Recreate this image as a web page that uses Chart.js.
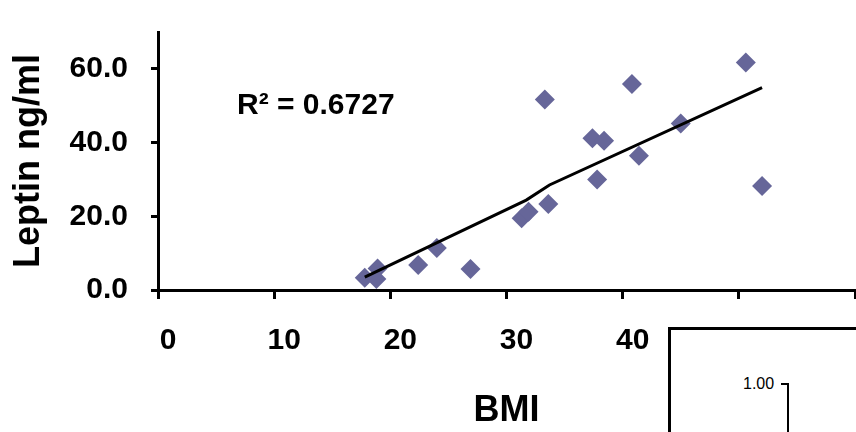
<!DOCTYPE html>
<html>
<head>
<meta charset="utf-8">
<script src="https://cdn.jsdelivr.net/npm/chart.js@4.4.1/dist/chart.umd.min.js"></script>
<style>
  body { margin: 0; background: #fff; }
  #wrap { position: relative; width: 856px; height: 432px; overflow: hidden; }
  #inset { position: absolute; left: 668px; top: 327px; width: 240px; height: 160px; background: #fff; border: 3px solid #000; box-sizing: border-box; }
  #inset span { position: absolute; left: 72px; top: 45px; font: 16px "Liberation Sans", Arial, sans-serif; }
  #inset .axis { position: absolute; left: 110px; top: 53px; width: 6px; height: 200px; border-top: 2px solid #000; border-right: 2px solid #000; }
</style>
</head>
<body>
<div id="wrap">
  <canvas id="chart" width="856" height="432"></canvas>
  <div id="inset"><span>1.00</span><div class="axis"></div></div>
</div>
<script>
// BMI vs leptin
const bmi    = [17.8, 18.9, 18.8, 22.4, 24.0, 26.9, 31.3, 31.9, 33.3, 33.6, 37.4, 37.8, 38.4, 40.8, 41.4, 45.0, 50.6, 52.0];
const leptin = [3.3, 5.8, 3.0, 6.8, 11.4, 5.7, 19.5, 21.2, 51.7, 23.3, 41.2, 30.0, 40.5, 55.9, 36.4, 45.2, 61.7, 28.2];

// trend line as drawn (slight bend near BMI 32-34)
const trendBmi    = [17.8, 31.7, 33.7, 52.0];
const trendLeptin = [3.5, 24.4, 28.5, 54.9];

const rSquared = '0.6727';

Chart.defaults.font.family = '"Liberation Sans", Arial, sans-serif';
Chart.defaults.color = '#000';

const toPoints = (xs, ys) => xs.map((x, i) => ({ x: x, y: ys[i] }));

// R² text placed in data units
const r2Label = {
  id: 'r2Label',
  afterDatasetsDraw(chart) {
    const { ctx, scales: { x, y } } = chart;
    ctx.save();
    ctx.font = 'bold 30px "Liberation Sans", Arial, sans-serif';
    ctx.fillStyle = '#000';
    ctx.textBaseline = 'alphabetic';
    ctx.fillText('R² = ' + rSquared, x.getPixelForValue(6.8), y.getPixelForValue(47.7));
    ctx.restore();
  }
};

const tickFont = { size: 30, weight: 'bold' };

new Chart(document.getElementById('chart'), {
  type: 'scatter',
  data: {
    datasets: [
      {
        data: toPoints(trendBmi, trendLeptin),
        showLine: true,
        borderColor: '#000',
        borderWidth: 3,
        pointRadius: 0,
        order: 0
      },
      {
        data: toPoints(bmi, leptin),
        pointStyle: 'rectRot',
        pointRadius: 10,
        backgroundColor: '#666699',
        borderWidth: 0,
        order: 1
      }
    ]
  },
  options: {
    responsive: false,
    animation: false,
    layout: { autoPadding: false, padding: { top: 32, right: 1, left: 0, bottom: 0 } },
    plugins: { legend: { display: false }, tooltip: { enabled: false } },
    scales: {
      x: {
        min: 0, max: 60,
        ticks: { stepSize: 10, font: tickFont, padding: 24, labelOffset: 10, maxRotation: 0 },
        grid: { drawOnChartArea: false, tickLength: 9, tickWidth: 3, color: '#000' },
        border: { color: '#000', width: 3 },
        title: { display: true, text: 'BMI', font: { size: 36, weight: 'bold', lineHeight: 1 }, padding: { top: 0, bottom: 3 } },
        afterFit(scale) { scale.height = 142; scale.paddingLeft = 0; scale.paddingRight = 0; }
      },
      y: {
        min: 0, max: 70,
        ticks: {
          stepSize: 10, font: tickFont, padding: 23,
          callback: v => (v % 20 === 0 ? v.toFixed(1) : '')
        },
        grid: { drawOnChartArea: false, tickLength: 7, tickWidth: 3, color: '#000' },
        border: { color: '#000', width: 3 },
        title: { display: true, text: 'Leptin ng/ml', font: { size: 36, weight: 'bold', lineHeight: 1 }, padding: { top: 11, bottom: 0 } },
        afterFit(scale) { scale.width = 158; scale.paddingTop = 0; scale.paddingBottom = 0; }
      }
    }
  },
  plugins: [r2Label]
});
</script>
</body>
</html>
